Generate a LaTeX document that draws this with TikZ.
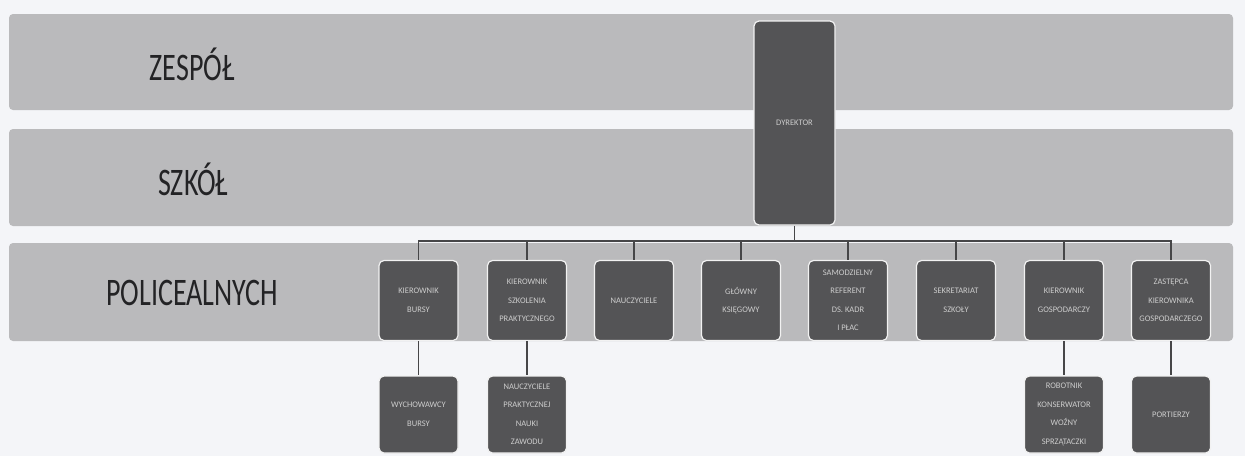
\documentclass[tikz,border=0pt]{standalone}
\usepackage{fontspec}
\setmainfont{Carlito}
\definecolor{bg}{RGB}{244,245,248}
\definecolor{bandgray}{RGB}{186,186,188}
\definecolor{boxgray}{RGB}{84,84,86}
\definecolor{boxtext}{RGB}{205,205,205}
\definecolor{labeltext}{RGB}{35,35,37}
\definecolor{linegray}{RGB}{70,70,72}
\begin{document}
\begin{tikzpicture}[x=1pt,y=-1pt,
  band/.style={fill=bandgray,draw=none,rounded corners=4pt},
  bandlabel/.style={text=labeltext,font=\fontsize{39}{40}\selectfont,inner sep=0pt},
  orgbox/.style={fill=boxgray,draw=white!90!gray,line width=1.2pt,rounded corners=5pt,
     minimum width=79pt,minimum height=80pt,inner sep=1pt,align=center,
     text=boxtext,font=\fontsize{8.5}{18.5}\selectfont},
  conn/.style={draw=linegray,line width=1.4pt}]
\useasboundingbox (0,0) rectangle (1245,456);
\fill[bg] (0,0) rectangle (1245,456);
% bands
\node[band,minimum width=1224pt,minimum height=96pt,inner sep=0pt] (b1) at (621,62) {};
\node[band,minimum width=1224pt,minimum height=97pt,inner sep=0pt] (b2) at (621,177.5) {};
\node[band,minimum width=1224pt,minimum height=98pt,inner sep=0pt] (b3) at (621,292) {};
\node[bandlabel] (l1) at (192,64) {\scalebox{0.72}[1]{ZESPÓŁ}};
\node[bandlabel] (l2) at (193,179) {\scalebox{0.72}[1]{SZKÓŁ}};
\node[bandlabel] (l3) at (192,293) {\scalebox{0.72}[1]{POLICEALNYCH}};
% director
\node[orgbox,minimum height=204pt,minimum width=81pt] (dyr) at (794.5,123) {DYREKTOR};
% second row
\node[orgbox] (k1) at (418.5,300.5) {KIEROWNIK\\BURSY};
\node[orgbox] (k2) at (527,300.5) {KIEROWNIK\\SZKOLENIA\\PRAKTYCZNEGO};
\node[orgbox] (k3) at (634,300.5) {NAUCZYCIELE};
\node[orgbox] (k4) at (741,300.5) {GŁÓWNY\\KSIĘGOWY};
\node[orgbox] (k5) at (848,300.5) {SAMODZIELNY\\REFERENT\\DS. KADR\\I PŁAC};
\node[orgbox] (k6) at (956,300.5) {SEKRETARIAT\\SZKOŁY};
\node[orgbox] (k7) at (1064,300.5) {KIEROWNIK\\GOSPODARCZY};
\node[orgbox] (k8) at (1171,300.5) {ZASTĘPCA\\KIEROWNIKA\\GOSPODARCZEGO};
% third row
\node[orgbox,minimum height=77pt] (w1) at (418.5,414.5) {WYCHOWAWCY\\BURSY};
\node[orgbox,minimum height=77pt] (w2) at (527,414.5) {NAUCZYCIELE\\PRAKTYCZNEJ\\NAUKI\\ZAWODU};
\node[orgbox,minimum height=77pt] (w7) at (1064,414.5) {ROBOTNIK\\KONSERWATOR\\WOŹNY\\SPRZĄTACZKI};
\node[orgbox,minimum height=77pt] (w8) at (1171,414.5) {PORTIERZY};
% connectors
\coordinate (bus) at (794.5,241);
\draw[conn] (dyr.south) -- (bus);
\draw[conn] (k1.north) |- (bus) -| (k8.north);
\foreach \k in {k2,k3,k4,k5,k6,k7}{
  \draw[conn] (\k.north) -- (\k.north |- bus);
}
\draw[conn] (k1.south) -- (w1.north);
\draw[conn] (k2.south) -- (w2.north);
\draw[conn] (k7.south) -- (w7.north);
\draw[conn] (k8.south) -- (w8.north);
\end{tikzpicture}
\end{document}
